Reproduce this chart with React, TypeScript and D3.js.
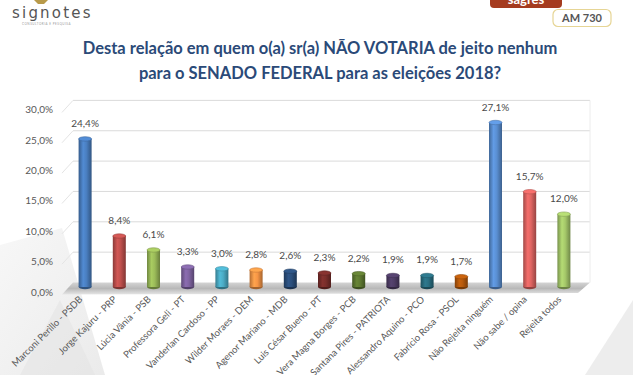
import React from "react";
import * as d3 from "d3";

const categories = [
  "Marconi Perillo - PSDB",
  "Jorge Kajuru - PRP",
  "Lúcia Vânia - PSB",
  "Professora Geli - PT",
  "Vanderlan Cardoso - PP",
  "Wilder Moraes - DEM",
  "Agenor Mariano - MDB",
  "Luis César Bueno - PT",
  "Vera Magna Borges - PCB",
  "Santana Pires - PATRIOTA",
  "Alessandro Aquino - PCO",
  "Fabrício Rosa - PSOL",
  "Não Rejeita ninguém",
  "Não sabe / opina",
  "Rejeita todos",
];
const values = [24.4, 8.4, 6.1, 3.3, 3.0, 2.8, 2.6, 2.3, 2.2, 1.9, 1.9, 1.7, 27.1, 15.7, 12.0];
const barColors = [
  "#4a7fc1", "#c0504d", "#9bbb59", "#8064a2", "#4bacc6", "#f79646",
  "#2b4f7c", "#7a2e2b", "#5f7a31", "#4f3d66", "#2a6f82", "#b65a0c",
  "#5a8fd2", "#e06562", "#a6c96a",
];
const yTicks = [0, 5, 10, 15, 20, 25, 30];
const titleLines = [
  "Desta relação em quem o(a) sr(a) NÃO VOTARIA de jeito nenhum",
  "para o SENADO FEDERAL para as eleições 2018?",
];

const W = 633;
const H = 375;
const fmt = (v: number) => v.toFixed(1).replace(".", ",") + "%";

export default function App() {
  const x = d3.scaleBand<string>().domain(categories).range([68, 581]).padding(0);
  const y = d3.scaleLinear().domain([0, 30]).range([287, 104.9]);
  const barW = 13;
  const wallL = 73;
  const wallR = 590;
  const sideL = 62;
  const gridOff = -4.5;
  const sideDy = 12;

  return (
    <svg
      width={W}
      height={H}
      viewBox={`0 0 ${W} ${H}`}
      style={{ position: "absolute", left: 0, top: 0, background: "#fff" }}
      fontFamily="Lato, 'Open Sans', sans-serif"
    >
      <defs>
        <linearGradient id="floorG" x1="0" y1="0" x2="0" y2="1">
          <stop offset="0" stopColor="#d4d4d4" />
          <stop offset="0.5" stopColor="#b8b8b8" />
          <stop offset="1" stopColor="#e6e6e6" />
        </linearGradient>
        <linearGradient id="wmG" x1="0" y1="0" x2="1" y2="1">
          <stop offset="0" stopColor="#f4f4f4" />
          <stop offset="1" stopColor="#e2e2e2" />
        </linearGradient>
        {barColors.map((c, i) => (
          <linearGradient key={i} id={`bg${i}`} x1="0" y1="0" x2="1" y2="0">
            <stop offset="0" stopColor={d3.color(c)!.darker(0.9).toString()} />
            <stop offset="0.35" stopColor={d3.color(c)!.brighter(0.25).toString()} />
            <stop offset="0.6" stopColor={c} />
            <stop offset="1" stopColor={d3.color(c)!.darker(1.1).toString()} />
          </linearGradient>
        ))}
      </defs>

      {/* background watermark shapes */}
      <polygon points="0,245 62,228 105,375 0,375" fill="url(#wmG)" opacity={0.7} />
      <polygon points="60,300 95,375 20,375" fill="#e4e4e4" opacity={0.6} />
      <polygon points="633,300 633,375 585,375" fill="#e8e8e8" opacity={0.8} />

      {/* logo top-left */}
      <path d="M34,0 L48,0 L44,4 L38,4 Z" fill="#b89a4a" />
      <text x={12} y={18} fontSize={15} fill="#555" letterSpacing={2.2} fontFamily="'DejaVu Sans', sans-serif">
        signotes
      </text>
      <text x={22} y={25} fontSize={3} fill="#999" letterSpacing={0.5}>
        CONSULTORIA E PESQUISA
      </text>

      {/* top-right badges */}
      <rect x={490} y={-10} width={72} height={18} rx={4} fill="#a53b1f" />
      <text x={526} y={4} fontSize={13} fill="#fff" fontWeight="bold" textAnchor="middle">
        sagres
      </text>
      <rect x={553} y={9.5} width={58} height={17} rx={5} fill="#fff" stroke="#e6d595" strokeWidth={1.2} />
      <text x={582} y={22} fontSize={11} fill="#555" fontWeight="bold" textAnchor="middle">
        AM 730
      </text>

      {/* title */}
      {titleLines.map((t, i) => (
        <text
          key={i}
          x={320}
          y={54 + i * 25}
          fontSize={16.5}
          fontWeight="bold"
          fill="#2b4a78"
          textAnchor="middle"
        >
          {t}
        </text>
      ))}

      {/* gridlines on back wall + side wall */}
      {yTicks.map((t) => {
        const gy = y(t) + gridOff;
        return (
          <g key={t}>
            {t > 0 && (
              <line x1={wallL} x2={wallR} y1={gy} y2={gy} stroke="#dadada" strokeWidth={1} />
            )}
            {t > 0 && (
              <line x1={sideL} y1={gy + sideDy} x2={wallL} y2={gy} stroke="#e4e4e4" strokeWidth={1} />
            )}
          </g>
        );
      })}
      <line x1={wallR} x2={wallR} y1={y(30) + gridOff} y2={y(0) + gridOff} stroke="#ececec" />

      {/* floor */}
      <polygon
        points={`${wallL},${y(0) + gridOff} ${wallR},${y(0) + gridOff} ${wallR - 12},${y(0) + 6} ${sideL},${y(0) + 7.5}`}
        fill="url(#floorG)"
      />

      {/* y tick labels */}
      {yTicks.map((t) => (
        <text key={t} x={53} y={y(t) + 5} dy="0.35em" fontSize={10} fill="#595959" textAnchor="end">
          {fmt(t)}
        </text>
      ))}

      {/* bars */}
      {categories.map((c, i) => {
        const cx = x(c)! + x.bandwidth() / 2;
        const top = y(values[i]);
        const bot = y(0);
        const col = barColors[i];
        return (
          <g key={c}>
            <ellipse cx={cx} cy={bot} rx={barW / 2} ry={2.2} fill={d3.color(col)!.darker(1.2).toString()} />
            <rect x={cx - barW / 2} y={top} width={barW} height={bot - top} fill={`url(#bg${i})`} />
            <ellipse
              cx={cx}
              cy={top}
              rx={barW / 2}
              ry={2.2}
              fill={d3.color(col)!.brighter(0.3).toString()}
              stroke={d3.color(col)!.darker(0.6).toString()}
              strokeWidth={0.6}
            />
            <text x={cx} y={top - 12} fontSize={10} fill="#4a4a4a" textAnchor="middle">
              {fmt(values[i])}
            </text>
          </g>
        );
      })}

      {/* category labels */}
      {categories.map((c) => {
        const cx = x(c)! + x.bandwidth() / 2;
        return (
          <text
            key={c}
            transform={`translate(${cx - 2},${y(0) + 13}) rotate(-45)`}
            fontSize={9.5}
            fill="#595959"
            textAnchor="end"
          >
            {c}
          </text>
        );
      })}
    </svg>
  );
}
